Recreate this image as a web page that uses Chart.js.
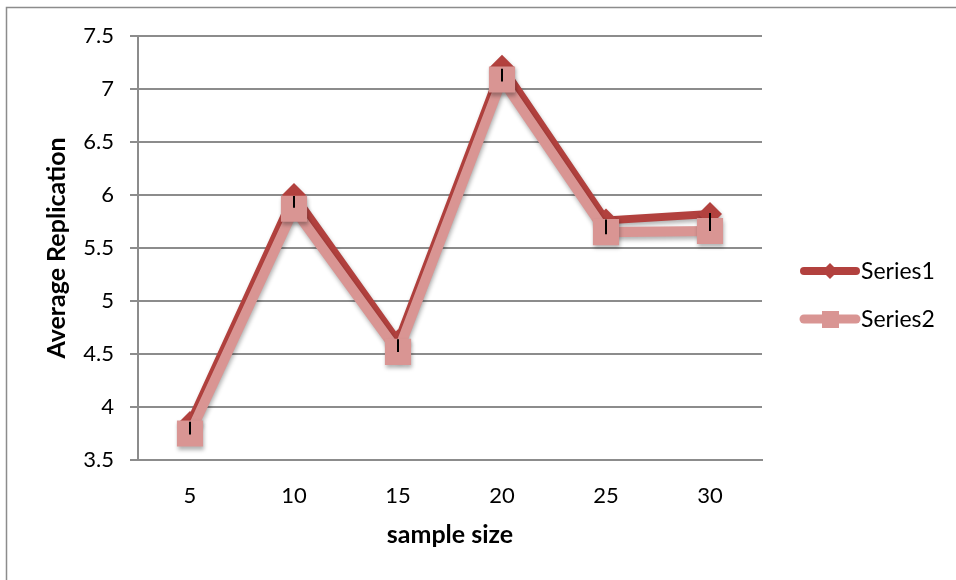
<!DOCTYPE html>
<html>
<head>
<meta charset="utf-8">
<script src="https://cdn.jsdelivr.net/npm/chart.js@4.4.1/dist/chart.umd.min.js"></script>
<style>
html,body{margin:0;padding:0;background:#fff;}
#wrap{position:relative;width:956px;height:580px;}
</style>
</head>
<body>
<div id="wrap"><canvas id="c" width="956" height="580"></canvas></div>
<script>
const categories = ['5', '10', '15', '20', '25', '30'];
const series1 = [3.85, 6.0, 4.62, 7.21, 5.76, 5.82];
const series2 = [3.75, 5.87, 4.52, 7.09, 5.65, 5.66];
const errLow = [3.74, 5.88, 4.52, 7.07, 5.63, 5.66];
const errHigh = [3.86, 5.99, 4.64, 7.19, 5.77, 5.83];
const seriesNames = ['Series1', 'Series2'];
const xTitle = 'sample size';
const yTitle = 'Average Replication';

const C1 = '#b2413e';
const C2 = '#d99593';
const FONT = 'Lato, "Open Sans", sans-serif';

const shadowPlugin = {
  id: 'shadow',
  beforeDatasetDraw(chart) {
    const ctx = chart.ctx;
    ctx.save();
    ctx.shadowColor = 'rgba(0,0,0,0.30)';
    ctx.shadowBlur = 4;
    ctx.shadowOffsetX = 1;
    ctx.shadowOffsetY = 3;
  },
  afterDatasetDraw(chart) {
    chart.ctx.restore();
  }
};

const framePlugin = {
  id: 'frame',
  beforeDraw(chart) {
    const ctx = chart.ctx;
    ctx.save();
    ctx.fillStyle = '#fff';
    ctx.fillRect(0, 0, chart.width, chart.height);
    ctx.strokeStyle = '#8c8c8c';
    ctx.lineWidth = 1.5;
    ctx.strokeRect(6.5, 7.5, chart.width + 20, chart.height + 20);
    ctx.restore();
  }
};

const errorPlugin = {
  id: 'errbars',
  afterDatasetsDraw(chart) {
    const ctx = chart.ctx;
    const xs = chart.scales.x, ys = chart.scales.y;
    ctx.save();
    ctx.strokeStyle = '#000';
    ctx.lineWidth = 2;
    for (let i = 0; i < categories.length; i++) {
      const x = Math.round(xs.getPixelForValue(i));
      ctx.beginPath();
      ctx.moveTo(x, ys.getPixelForValue(errHigh[i]));
      ctx.lineTo(x, ys.getPixelForValue(errLow[i]));
      ctx.stroke();
    }
    ctx.restore();
  }
};

const legendPlugin = {
  id: 'customLegend',
  afterDraw(chart) {
    const ctx = chart.ctx;
    const items = [
      {name: seriesNames[0], color: C1, w: 8, style: 'diamond', y: 271},
      {name: seriesNames[1], color: C2, w: 9, style: 'square', y: 319}
    ];
    ctx.save();
    items.forEach(it => {
      ctx.strokeStyle = it.color;
      ctx.lineWidth = it.w;
      ctx.lineCap = 'round';
      ctx.beginPath();
      ctx.moveTo(804, it.y);
      ctx.lineTo(856, it.y);
      ctx.stroke();
      ctx.fillStyle = it.color;
      if (it.style === 'diamond') {
        ctx.beginPath();
        ctx.moveTo(830, it.y - 8);
        ctx.lineTo(838, it.y);
        ctx.lineTo(830, it.y + 8);
        ctx.lineTo(822, it.y);
        ctx.closePath();
        ctx.fill();
      } else {
        ctx.fillRect(822, it.y - 8, 17, 17);
      }
      ctx.fillStyle = '#000';
      ctx.font = '23px ' + FONT;
      ctx.textBaseline = 'middle';
      ctx.textAlign = 'left';
      ctx.fillText(it.name, 861, it.y + 1);
    });
    ctx.restore();
  }
};

new Chart(document.getElementById('c'), {
  type: 'line',
  data: {
    labels: categories,
    datasets: [
      {
        label: seriesNames[0],
        data: series1,
        borderColor: C1,
        backgroundColor: C1,
        borderWidth: 8,
        pointStyle: 'rectRot',
        pointRadius: 12,
        pointBorderWidth: 0,
        pointBackgroundColor: C1,
        tension: 0,
        order: 2
      },
      {
        label: seriesNames[1],
        data: series2,
        borderColor: C2,
        backgroundColor: C2,
        borderWidth: 10,
        pointStyle: 'rect',
        pointRadius: 18.5,
        pointBorderWidth: 0,
        pointBackgroundColor: C2,
        tension: 0,
        order: 1
      }
    ]
  },
  options: {
    responsive: false,
    animation: false,
    devicePixelRatio: 1,
    layout: {padding: {left: 38, right: 194, top: 36, bottom: 26}},
    plugins: {legend: {display: false}, tooltip: {enabled: false}},
    scales: {
      x: {
        offset: true,
        grid: {display: false},
        border: {display: true, color: '#8c8c8c', width: 2},
        ticks: {color: '#000', font: {family: FONT, size: 22}, padding: 15},
        title: {display: true, text: xTitle, color: '#000', font: {family: FONT, size: 25, weight: 'bold'}, padding: {top: 4, bottom: 4}},
        afterFit(s) { s.height = 94; }
      },
      y: {
        min: 3.5, max: 7.5,
        ticks: {stepSize: 0.5, color: '#000', font: {family: FONT, size: 22}, padding: 16,
          callback: (v) => String(Math.round(v * 10) / 10)},
        grid: {color: '#8c8c8c', lineWidth: 2, tickLength: 8, drawTicks: true},
        border: {display: true, color: '#8c8c8c', width: 2},
        title: {display: true, text: yTitle, color: '#000', font: {family: FONT, size: 25, weight: 'bold'}, padding: {top: 4, bottom: 4}},
        afterFit(s) { s.width = 100; }
      }
    }
  },
  plugins: [framePlugin, shadowPlugin, errorPlugin, legendPlugin]
});
</script>
</body>
</html>
